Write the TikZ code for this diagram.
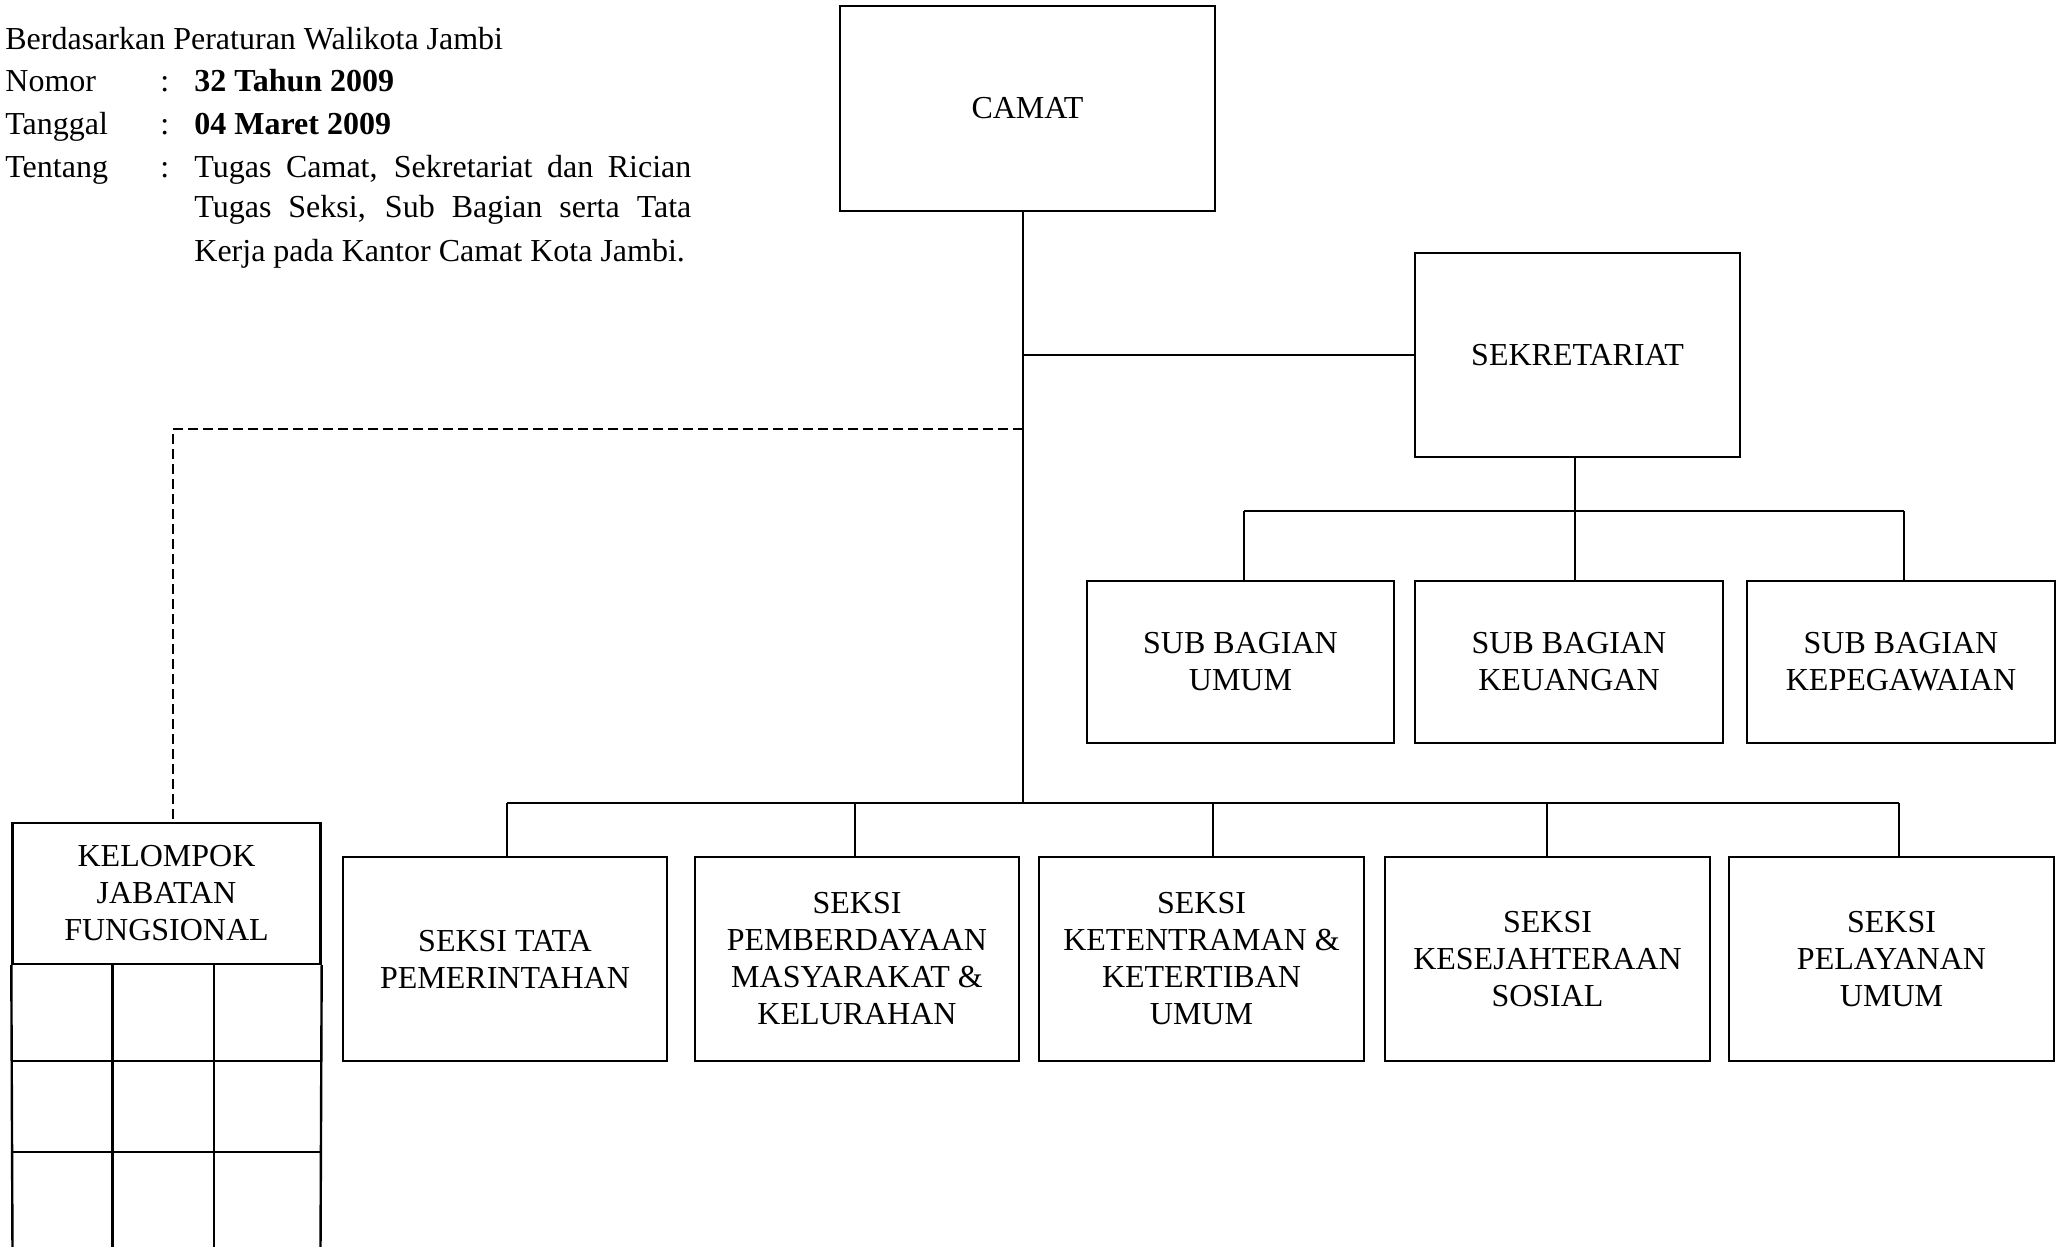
\documentclass[tikz,border=0pt]{standalone}
\usepackage{fontspec}
\setmainfont{Liberation Serif}
\begin{document}
\begin{tikzpicture}[x=0.5pt,y=-0.5pt,
  box/.style={draw,line width=1.2pt,rectangle,inner sep=0pt,align=center,font=\fontsize{16}{18.5}\selectfont},
  link/.style={line width=0.85pt},
  dashlink/.style={line width=0.9pt,dash pattern=on 5pt off 2.5pt},
  grid/.style={line width=1.2pt},
  txt/.style={anchor=base west,inner sep=0pt,font=\fontsize{16}{19}\selectfont}]
\useasboundingbox (0,0) rectangle (2063,1247);

% header text
\node[txt] (intro) at (5,50) {Berdasarkan Peraturan Walikota Jambi};
\node[txt] (k1) at (5,92) {Nomor};
\node[txt] (c1) at (160,92) {:};
\node[txt] (v1) at (194,92) {\textbf{32 Tahun 2009}};
\node[txt] (k2) at (5,135) {Tanggal};
\node[txt] (c2) at (160,135) {:};
\node[txt] (v2) at (194,135) {\textbf{04 Maret 2009}};
\node[txt] (k3) at (5,177) {Tentang};
\node[txt] (c3) at (160,177) {:};
\node[txt] (v3a) at (194,177) {\makebox[248.5pt][s]{Tugas Camat, Sekretariat dan Rician}};
\node[txt] (v3b) at (194,218) {\makebox[248.5pt][s]{Tugas Seksi, Sub Bagian serta Tata}};
\node[txt] (v3c) at (194,262) {Kerja pada Kantor Camat Kota Jambi.};

% boxes
\node[box,minimum width=187.5pt,minimum height=102.5pt] (camat) at (1027.5,108.5) {CAMAT};
\node[box,minimum width=162.5pt,minimum height=102pt] (sek) at (1577.5,355) {SEKRETARIAT};

\node[box,minimum width=153.5pt,minimum height=81pt] (sub1) at (1240.5,662) {SUB BAGIAN\\UMUM};
\node[box,minimum width=154pt,minimum height=81pt] (sub2) at (1569,662) {SUB BAGIAN\\KEUANGAN};
\node[box,minimum width=154pt,minimum height=81pt] (sub3) at (1901,662) {SUB BAGIAN\\KEPEGAWAIAN};

\node[box,minimum width=162pt,minimum height=102pt] (s1) at (505,959) {SEKSI TATA\\PEMERINTAHAN};
\node[box,minimum width=162pt,minimum height=102pt] (s2) at (857,959) {SEKSI\\PEMBERDAYAAN\\MASYARAKAT \&\\KELURAHAN};
\node[box,minimum width=162.5pt,minimum height=102pt] (s3) at (1201.5,959) {SEKSI\\KETENTRAMAN \&\\KETERTIBAN\\UMUM};
\node[box,minimum width=162.5pt,minimum height=102pt] (s4) at (1547.5,959) {SEKSI\\KESEJAHTERAAN\\SOSIAL};
\node[box,minimum width=162.5pt,minimum height=102pt] (s5) at (1891.5,959) {SEKSI\\PELAYANAN\\UMUM};

\node[box,minimum width=154pt,minimum height=70.5pt] (kel) at (166.5,893.5) {KELOMPOK\\JABATAN\\FUNGSIONAL};

% kelompok grid
\draw[grid] (kel.south west) -- (12.5,1252);
\draw[grid] (kel.south east) -- (320.5,1252);
\draw[grid] (112.5,964) -- (112.5,1252);
\draw[grid] (214,964) -- (214,1252);
\draw[grid] (12.5,1061) -- (320.5,1061);
\draw[grid] (12.5,1152) -- (320.5,1152);

% trunk from camat
\coordinate (trunk) at (1023,803);
\draw[link] (camat.south -| trunk) -- (trunk);
\draw[link] (sek.west -| trunk) -- (sek.west);

% dashed to kelompok
\coordinate (dj) at (1023,429);
\coordinate (kd) at (173,823);
\draw[dashlink] (dj) -| (kd);

% seksi bus
\coordinate (bl) at (507,803);
\coordinate (br) at (1899,803);
\draw[link] (bl) -- (br);
\foreach \n/\x in {s1/507,s2/855,s3/1213,s4/1547,s5/1899}{
  \coordinate (d\n) at (\x,803);
  \draw[link] (d\n) -- (d\n |- \n.north);
}

% sub bagian bus
\coordinate (sl) at (1244,511);
\coordinate (sr) at (1904,511);
\coordinate (sm) at (1575,511);
\draw[link] (sl) -- (sr);
\draw[link] (sek.south -| sm) -- (sm);
\foreach \n/\x in {sub1/1244,sub2/1575,sub3/1904}{
  \coordinate (e\n) at (\x,511);
  \draw[link] (e\n) -- (e\n |- \n.north);
}
\end{tikzpicture}
\end{document}
